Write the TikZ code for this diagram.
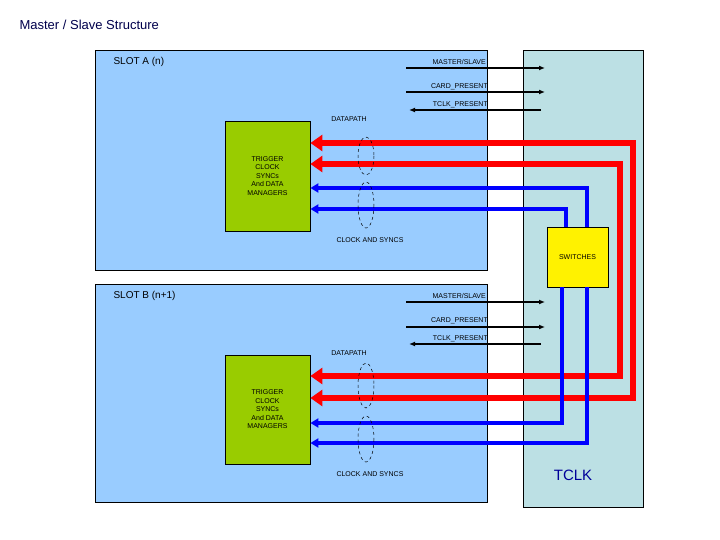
\documentclass[tikz,border=0pt]{standalone}
\usepackage{fontspec}
\setmainfont{Liberation Sans}
\usetikzlibrary{arrows.meta}
\begin{document}
\begin{tikzpicture}[x=1pt,y=-1pt,
  slot/.style={draw=black,fill=slotblue,line width=0.8pt},
  mgr/.style={draw=black,fill=mgrgreen,line width=0.8pt,align=center,font=\fontsize{7}{8.5}\selectfont},
  lbl/.style={font=\fontsize{7}{8}\selectfont,inner sep=0pt},
  sig/.style={line width=1.2pt,-{Latex[length=6pt,width=5pt]}},
  red/.style={draw=red,line width=6pt,-{Triangle[length=12pt,width=16pt]}},
  blue/.style={draw=blue,line width=3.5pt,-{Triangle[length=8pt,width=9pt]}},
  ell/.style={draw=black,dashed,line width=0.5pt}]
\definecolor{slotblue}{HTML}{99CCFF}
\definecolor{tclkc}{HTML}{BCE0E4}
\definecolor{mgrgreen}{HTML}{99CC00}
\useasboundingbox (0,0) rectangle (720,540);
\fill[white] (0,0) rectangle (720,540);
\node[anchor=west,font=\fontsize{13}{15}\selectfont,text=black!70!blue] (title) at (16,25) {Master / Slave Structure};
% TCLK board
\draw[fill=tclkc,line width=0.8pt] (523,50) rectangle (643,507);
\node[font=\fontsize{15}{17}\selectfont,text=blue!60!black] (tclk) at (573,475) {TCLK};
% slots
\draw[slot] (95,50) rectangle (487,270);
\draw[slot] (95,284) rectangle (487,502);
\node[anchor=west,font=\fontsize{10}{12}\selectfont] (sa) at (110,62) {SLOT A (n)};
\node[anchor=west,font=\fontsize{10}{12}\selectfont] (sb) at (110,296) {SLOT B (n+1)};
% managers
\node[mgr,minimum width=85pt,minimum height=110pt] (ma) at (267.5,176) {TRIGGER\\CLOCK\\SYNCs\\And DATA\\MANAGERS};
\node[mgr,minimum width=85pt,minimum height=109pt] (mb) at (267.5,409.5) {TRIGGER\\CLOCK\\SYNCs\\And DATA\\MANAGERS};
% switches
\node[draw=black,fill=yellow,line width=0.8pt,minimum width=61pt,minimum height=60pt,font=\fontsize{7}{8}\selectfont] (sw) at (577.5,257) {SWITCHES};
% signals A
\coordinate (a1s) at (406,68); \coordinate (a1e) at (545,68);
\coordinate (a2s) at (406,92); \coordinate (a2e) at (545,92);
\coordinate (a3s) at (541,110); \coordinate (a3e) at (409,110);
\draw[sig] (a1s) -- (a1e); \draw[sig] (a2s) -- (a2e); \draw[sig] (a3s) -- (a3e);
\node[lbl,anchor=east] at (486,62) {MASTER/SLAVE};
\node[lbl,anchor=east] at (488,87) {CARD\_PRESENT};
\node[lbl,anchor=east] at (488,105) {TCLK\_PRESENT};
% signals B
\coordinate (b1s) at (406,302); \coordinate (b1e) at (545,302);
\coordinate (b2s) at (406,327); \coordinate (b2e) at (545,327);
\coordinate (b3s) at (541,344); \coordinate (b3e) at (409,344);
\draw[sig] (b1s) -- (b1e); \draw[sig] (b2s) -- (b2e); \draw[sig] (b3s) -- (b3e);
\node[lbl,anchor=east] at (486,296) {MASTER/SLAVE};
\node[lbl,anchor=east] at (488,321) {CARD\_PRESENT};
\node[lbl,anchor=east] at (488,339) {TCLK\_PRESENT};
% labels
\node[lbl] at (349,119) {DATAPATH};
\node[lbl] at (370,240) {CLOCK AND SYNCS};
\node[lbl] at (349,353) {DATAPATH};
\node[lbl] at (370,474) {CLOCK AND SYNCS};
% red lines
\draw[red] (633,398) -- (633,143) -- (ma.east |- 0,143);
\draw[red] (620,376) -- (620,164) -- (ma.east |- 0,164);
\draw[red] (620,164) -- (620,376) -- (mb.east |- 0,376);
\draw[red] (633,143) -- (633,398) -- (mb.east |- 0,398);
% blue lines
\draw[blue] (sw.north -| 587,0) -- (587,188) -- (ma.east |- 0,188);
\draw[blue] (sw.north -| 566,0) -- (566,209) -- (ma.east |- 0,209);
\draw[blue] (sw.south -| 562,0) -- (562,423) -- (mb.east |- 0,423);
\draw[blue] (sw.south -| 587,0) -- (587,443) -- (mb.east |- 0,443);
% ellipses
\draw[ell] (366,156) ellipse (8 and 19);
\draw[ell] (366,205) ellipse (8 and 23);
\draw[ell] (366,385.5) ellipse (8 and 22.5);
\draw[ell] (366,439) ellipse (8 and 23);
\end{tikzpicture}
\end{document}
